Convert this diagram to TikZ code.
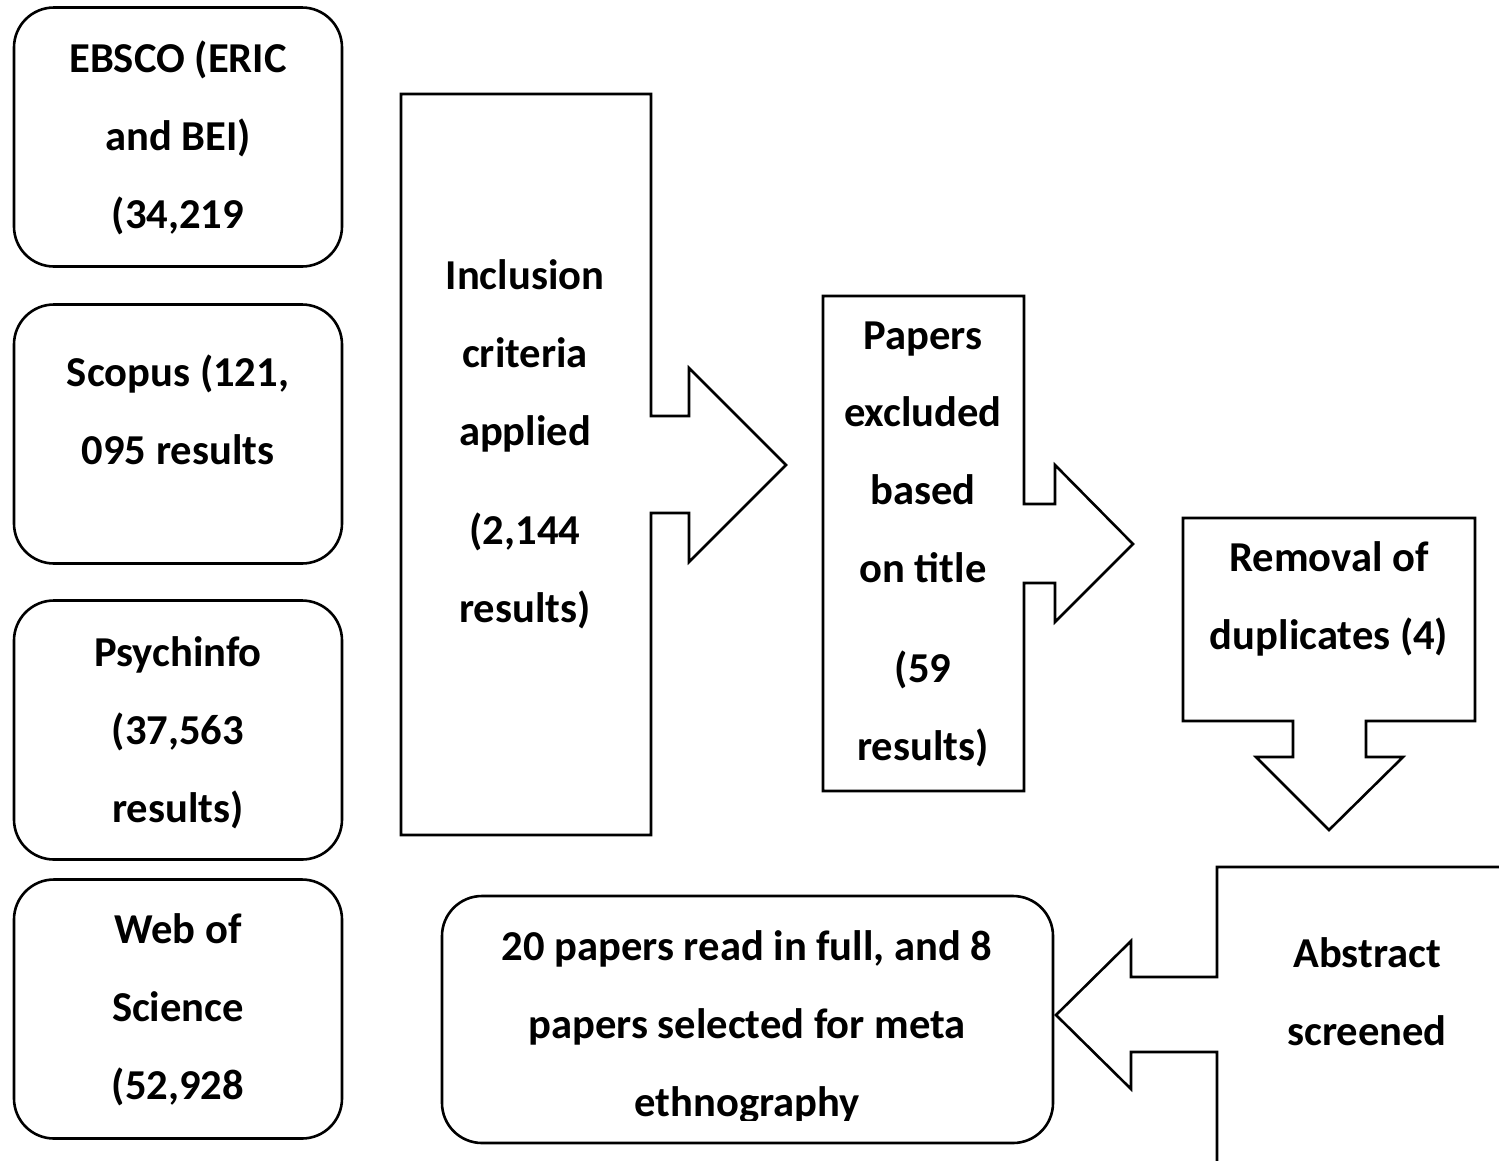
\documentclass[tikz,border=0pt]{standalone}
\usepackage{fontspec}
\setmainfont{Carlito}
\tikzset{
  every picture/.style={x=1pt,y=-1pt},
  shp/.style={draw=black,line width=2.6pt,fill=white,line join=miter},
  rbox/.style={draw=black,line width=2.6pt,rounded corners=40pt,inner sep=0pt,outer sep=0pt},
  lbl/.style={font=\fontsize{42.6}{50}\selectfont\bfseries,anchor=base,inner sep=0pt}
}
\begin{document}
\begin{tikzpicture}
\useasboundingbox (0,0) rectangle (1499,1160);
% left column boxes
\node[rbox,minimum width=328pt,minimum height=259pt] (b1) at (178,137) {};
\node[rbox,minimum width=328pt,minimum height=259pt] (b2) at (178,434) {};
\node[rbox,minimum width=328pt,minimum height=259pt] (b3) at (178,730) {};
\node[rbox,minimum width=328pt,minimum height=259pt] (b4) at (178,1009) {};
\node[lbl] (t1a) at (178,72) {EBSCO (ERIC};
\node[lbl] (t1b) at (178,150) {and BEI)};
\node[lbl] (t1c) at (178,228) {(34,219};
\node[lbl] (t2a) at (178,386) {Scopus (121,};
\node[lbl] (t2b) at (178,464) {095 results};
\node[lbl] (t3a) at (178,666) {Psychinfo};
\node[lbl] (t3b) at (178,744) {(37,563};
\node[lbl] (t3c) at (178,822) {results)};
\node[lbl] (t4a) at (178,943) {Web of};
\node[lbl] (t4b) at (178,1021) {Science};
\node[lbl] (t4c) at (178,1099) {(52,928};
% arrow shape 1
\draw[shp] (401,94) -- (651,94) -- (651,416) -- (689,416) -- (689,368) -- (786,465)
  -- (689,562) -- (689,513) -- (651,513) -- (651,835) -- (401,835) -- cycle;
\node[lbl] (s1a) at (525,289) {Inclusion};
\node[lbl] (s1b) at (525,367) {criteria};
\node[lbl] (s1c) at (525,445) {applied};
\node[lbl] (s1d) at (525,544) {(2,144};
\node[lbl] (s1e) at (525,622) {results)};
% arrow shape 2
\draw[shp] (823,296) -- (1024,296) -- (1024,504) -- (1055,504) -- (1055,465) -- (1133,544)
  -- (1055,622) -- (1055,583) -- (1024,583) -- (1024,791) -- (823,791) -- cycle;
\node[lbl] (s2a) at (923,349) {Papers};
\node[lbl] (s2b) at (923,426) {excluded};
\node[lbl] (s2c) at (923,504) {based};
\node[lbl] (s2d) at (923,582) {on title};
\node[lbl] (s2e) at (923,682) {(59};
\node[lbl] (s2f) at (923,760) {results)};
% down arrow
\draw[shp] (1183,518) -- (1475,518) -- (1475,721) -- (1366,721) -- (1366,757) -- (1403,757)
  -- (1329,830) -- (1256,757) -- (1293,757) -- (1293,721) -- (1183,721) -- cycle;
\node[lbl] (s3a) at (1329,571) {Removal of};
\node[lbl] (s3b) at (1329,649) {duplicates (4)};
% left arrow
\draw[shp] (1510,867) -- (1217,867) -- (1217,977) -- (1131,977) -- (1131,941) -- (1056,1015)
  -- (1131,1089) -- (1131,1052) -- (1217,1052) -- (1217,1175);
\node[lbl] (s4a) at (1367,967) {Abstract};
\node[lbl] (s4b) at (1367,1045) {screened};
% bottom rounded box
\node[rbox,minimum width=611pt,minimum height=247pt] (b5) at (747.5,1019.5) {};
\node[lbl] (t5a) at (747,960) {20 papers read in full, and 8};
\node[lbl] (t5b) at (747,1038) {papers selected for meta};
\begin{scope}
\clip (450,1060) rectangle (1045,1120);
\node[lbl] (t5c) at (747,1116) {ethnography};
\end{scope}
\end{tikzpicture}
\end{document}
